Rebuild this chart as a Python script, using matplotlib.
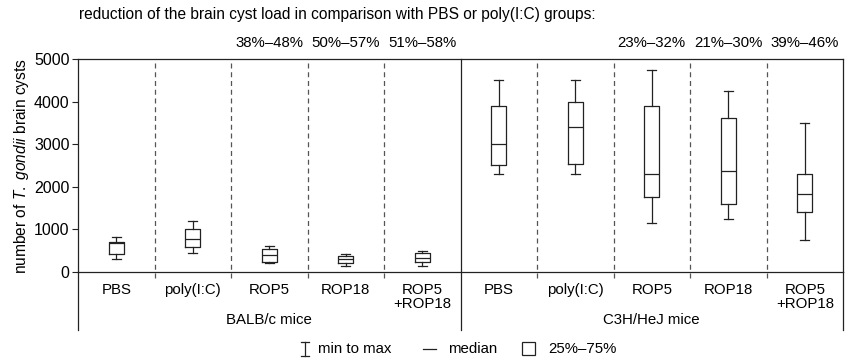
import matplotlib.pyplot as plt
from matplotlib.lines import Line2D
from matplotlib.patches import Rectangle
import matplotlib.transforms as mtransforms

plt.rcParams['font.family'] = ['Liberation Sans', 'DejaVu Sans']
plt.rcParams['mathtext.fontset'] = 'custom'
plt.rcParams['mathtext.it'] = 'Liberation Sans:italic'
plt.rcParams['mathtext.rm'] = 'Liberation Sans'

# groups and box stats (min, q1, median, q3, max)
groups = ['PBS', 'poly(I:C)', 'ROP5', 'ROP18', 'ROP5\n+ROP18']
strains = ['BALB/c mice', 'C3H/HeJ mice']

balb_min = [300, 450, 200, 130, 130]
balb_q1 = [430, 580, 240, 220, 235]
balb_med = [670, 770, 400, 300, 340]
balb_q3 = [710, 1000, 550, 380, 450]
balb_max = [810, 1200, 600, 420, 500]

c3h_min = [2300, 2300, 1150, 1250, 750]
c3h_q1 = [2520, 2530, 1750, 1600, 1400]
c3h_med = [3000, 3400, 2290, 2380, 1830]
c3h_q3 = [3900, 3980, 3900, 3615, 2300]
c3h_max = [4500, 4500, 4750, 4240, 3500]

reduction = ['', '', '38%–48%', '50%–57%', '51%–58%',
             '', '', '23%–32%', '21%–30%', '39%–46%']

mins = balb_min + c3h_min
q1s = balb_q1 + c3h_q1
meds = balb_med + c3h_med
q3s = balb_q3 + c3h_q3
maxs = balb_max + c3h_max

stats = []
for i in range(len(mins)):
    stats.append({'whislo': mins[i], 'q1': q1s[i], 'med': meds[i],
                  'q3': q3s[i], 'whishi': maxs[i], 'fliers': []})

W, H = 847, 360
fs = 10.8
fig = plt.figure(figsize=(W / 100, H / 100), dpi=100)
ax = fig.add_axes([78 / W, 1 - 272 / H, (843 - 78) / W, (272 - 59) / H])

lc = '#222222'
lw = 0.9
ax.bxp(stats, positions=range(10), widths=0.2, showfliers=False,
       boxprops=dict(color=lc, linewidth=lw),
       medianprops=dict(color=lc, linewidth=lw),
       whiskerprops=dict(color=lc, linewidth=lw),
       capprops=dict(color=lc, linewidth=lw), capwidths=0.12)

ax.set_xlim(-0.5, 9.5)
ax.set_ylim(0, 5000)
ax.set_yticks([0, 1000, 2000, 3000, 4000, 5000])
ax.set_xticks([])
ax.tick_params(axis='y', labelsize=11.5, length=4, width=0.8, color=lc, pad=2)
for s in ax.spines.values():
    s.set_color(lc)
    s.set_linewidth(0.9)
ax.set_ylabel('number of $T.\\ gondii$ brain cysts', fontsize=11.2, labelpad=2)

trans = mtransforms.blended_transform_factory(ax.transData, ax.transAxes)

# separators between groups
for i in range(1, 10):
    x = i - 0.5
    if i == 5:
        ax.plot([x, x], [-0.27, 1], color=lc, lw=0.9, transform=trans, clip_on=False)
    else:
        ax.plot([x, x], [-0.03, 1], color='#555555', lw=0.9, ls=(0, (4, 3)),
                transform=trans, clip_on=False)
for x in [-0.5, 9.5]:
    ax.plot([x, x], [-0.27, 0], color=lc, lw=0.9, transform=trans, clip_on=False)

labels = groups + groups
for i, lab in enumerate(labels):
    ax.text(i, -0.05, lab, transform=trans, ha='center', va='top', fontsize=fs,
            linespacing=1.05)
    if reduction[i]:
        ax.text(i, 1.075, reduction[i], transform=trans, ha='center', va='center',
                fontsize=fs)

for k, name in enumerate(strains):
    ax.text(2 + 5 * k, -0.225, name, transform=trans, ha='center', va='center',
            fontsize=fs)

fig.text(79 / W, 1 - 15 / H,
         'reduction of the brain cyst load in comparison with PBS or poly(I:C) groups:',
         fontsize=11.2, va='center')

# legend drawn by hand
ly = 1 - 349 / H
fig.add_artist(Line2D([305 / W, 305 / W], [1 - 342 / H, 1 - 356 / H], color=lc, lw=0.9))
fig.add_artist(Line2D([301 / W, 309 / W], [1 - 342 / H, 1 - 342 / H], color=lc, lw=0.9))
fig.add_artist(Line2D([301 / W, 309 / W], [1 - 356 / H, 1 - 356 / H], color=lc, lw=0.9))
fig.text(318 / W, ly, 'min to max', fontsize=fs, va='center')
fig.add_artist(Line2D([423 / W, 436 / W], [ly, ly], color=lc, lw=0.9))
fig.text(448 / W, ly, 'median', fontsize=fs, va='center')
fig.add_artist(Rectangle((522 / W, 1 - 355 / H), 13 / W, 13 / H, fill=False,
                         edgecolor=lc, lw=0.9, transform=fig.transFigure))
fig.text(548 / W, ly, '25%–75%', fontsize=fs, va='center')

fig.savefig('out.png', dpi=100)
